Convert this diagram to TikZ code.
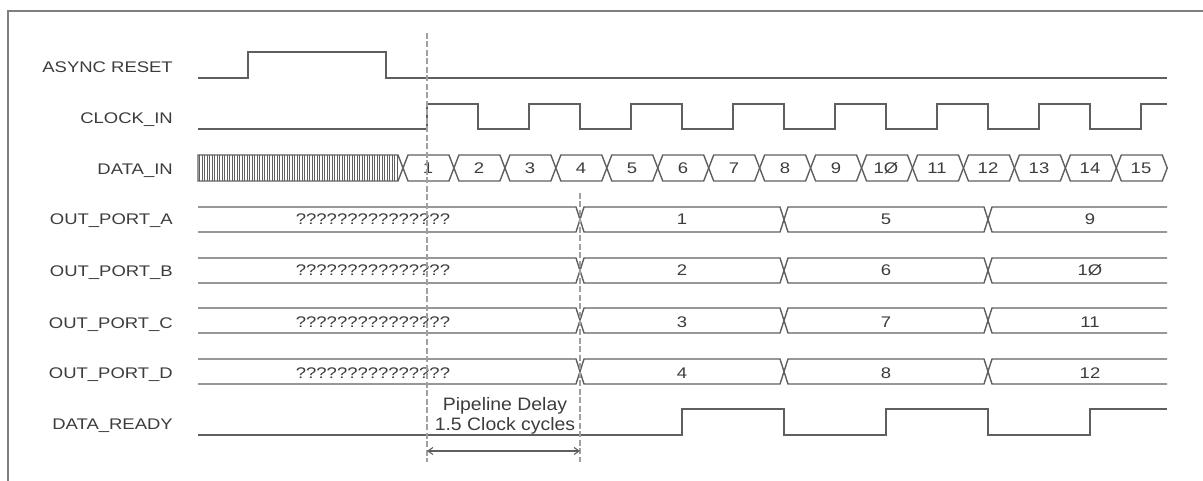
\documentclass[tikz,border=0pt]{standalone}
\usepackage{fontspec}
\setmainfont{Liberation Sans}[FakeStretch=1.2]
\newfontfamily\notefont{Liberation Sans}[FakeStretch=1.08]
\usetikzlibrary{arrows.meta}

\definecolor{wavegray}{RGB}{95,95,95}
\definecolor{textgray}{RGB}{60,60,60}
\definecolor{guidegray}{RGB}{160,160,160}

\begin{document}
\begin{tikzpicture}[x=1pt,y=-1pt,
	wave/.style={draw=wavegray,line width=1.4pt},
	hatch/.style={draw=wavegray,line width=0.9pt},
	sig/.style={anchor=base east,inner sep=0pt,text=textgray,font=\fontsize{15.4}{18}\selectfont},
	val/.style={anchor=base,inner sep=0pt,text=textgray,font=\fontsize{15.4}{18}\selectfont},
	guide/.style={draw=guidegray,line width=1.3pt,dash pattern=on 6pt off 2.5pt},
	dim/.style={draw=wavegray,line width=1.1pt,{Straight Barb[length=5pt,width=7pt]}-{Straight Barb[length=5pt,width=7pt]}}]
	\useasboundingbox (0,0) rectangle (1203,481);

	% Frame
	\draw[draw=wavegray!80,line width=2pt] (1203,11) -- (8,11) -- (8,481);

	% signal names
	\node[sig] (async) at (173,73) {ASYNC RESET};
	\node[sig] (clk) at (173,124) {CLOCK\_IN};
	\node[sig] (din) at (173,175) {DATA\_IN};
	\node[sig] (outa) at (173,225) {OUT\_PORT\_A};
	\node[sig] (outb) at (173,277) {OUT\_PORT\_B};
	\node[sig] (outc) at (173,328) {OUT\_PORT\_C};
	\node[sig] (outd) at (173,378) {OUT\_PORT\_D};
	\node[sig] (rdy) at (173,429) {DATA\_READY};

	% reset and clock
	\draw[wave] (198,78) -| (248,52) -| (386,78) -- (1167,78);
	\draw[wave] (198,129) -| (427,104) -| (478,129) -| (529,104) -| (580,129)
		-| (631,104) -| (682,129) -| (733,104) -| (784,129) -| (835,104)
		-| (886,129) -| (937,104) -| (988,129) -| (1039,104) -| (1090,129)
		-| (1141,104) -- (1167,104);

	% data in
	\foreach \x in {199.5,202,...,397}
		\draw[hatch] (\x,155) -- (\x,181);
	\draw[wave] (198,155) -- (398,155) -- (403,168) -- (398,181) -- (198,181) -- cycle;
	\foreach \i in {0,...,14}
		\draw[wave] ({403+50.95*\i},168) -- ++(5,-13) -- ({403+50.95*(\i+1)-5},155)
			-- ({403+50.95*(\i+1)},168) -- ({403+50.95*(\i+1)-5},181) -- ({403+50.95*\i+5},181) -- cycle;
	\node[val] (d1) at (428,174) {1};
	\node[val] (d2) at (479,174) {2};
	\node[val] (d3) at (530,174) {3};
	\node[val] (d4) at (581,174) {4};
	\node[val] (d5) at (632,174) {5};
	\node[val] (d6) at (683,174) {6};
	\node[val] (d7) at (734,174) {7};
	\node[val] (d8) at (785,174) {8};
	\node[val] (d9) at (836,174) {9};
	\node[val] (d10) at (886,174) {1Ø};
	\node[val] (d11) at (937,174) {11};
	\node[val] (d12) at (988,174) {12};
	\node[val] (d13) at (1039,174) {13};
	\node[val] (d14) at (1090,174) {14};
	\node[val] (d15) at (1141,174) {15};

	% output ports
	\foreach \t in {207,258,308,359}{
		\draw[wave] (198,\t) -- (576,\t) -- (580,\t+12.5) -- (576,\t+25) -- (198,\t+25);
		\draw[wave] (584,\t) -- (780,\t) -- (784,\t+12.5) -- (780,\t+25) -- (584,\t+25) -- (580,\t+12.5) -- cycle;
		\draw[wave] (788,\t) -- (984,\t) -- (988,\t+12.5) -- (984,\t+25) -- (788,\t+25) -- (784,\t+12.5) -- cycle;
		\draw[wave] (1167,\t) -- (992,\t) -- (988,\t+12.5) -- (992,\t+25) -- (1167,\t+25);
	}
	\node[val] (a0) at (373,225) {???????????????};
	\node[val] (a1) at (682,225) {1};
	\node[val] (a5) at (886,225) {5};
	\node[val] (a9) at (1090,225) {9};
	\node[val] (b0) at (373,276) {???????????????};
	\node[val] (b2) at (682,276) {2};
	\node[val] (b6) at (886,276) {6};
	\node[val] (b10) at (1090,276) {1Ø};
	\node[val] (c0) at (373,327) {???????????????};
	\node[val] (c3) at (682,327) {3};
	\node[val] (c7) at (886,327) {7};
	\node[val] (c11) at (1090,327) {11};
	\node[val] (e0) at (373,378) {???????????????};
	\node[val] (e4) at (682,378) {4};
	\node[val] (e8) at (886,378) {8};
	\node[val] (e12) at (1090,378) {12};

	% data ready
	\draw[wave] (198,435) -| (682,409) -| (784,435) -| (886,409) -| (988,435) -| (1090,409) -- (1167,409);

	% pipeline delay
	\coordinate (g1t) at (427,33);
	\coordinate (g1b) at (427,462);
	\coordinate (g2t) at (580,193);
	\coordinate (g2b) at (580,462);
	\draw[guide] (g1t) -- (g1b);
	\draw[guide] (g2t) -- (g2b);
	\coordinate (arl) at (427,451);
	\coordinate (arr) at (580,451);
	\draw[dim] (arl) -- (arr);
	\node[anchor=base,inner sep=0pt,text=textgray,font=\notefont\fontsize{18}{20}\selectfont,align=center] (delay) at (505,430) {Pipeline Delay\\1.5 Clock cycles};
\end{tikzpicture}
\end{document}
